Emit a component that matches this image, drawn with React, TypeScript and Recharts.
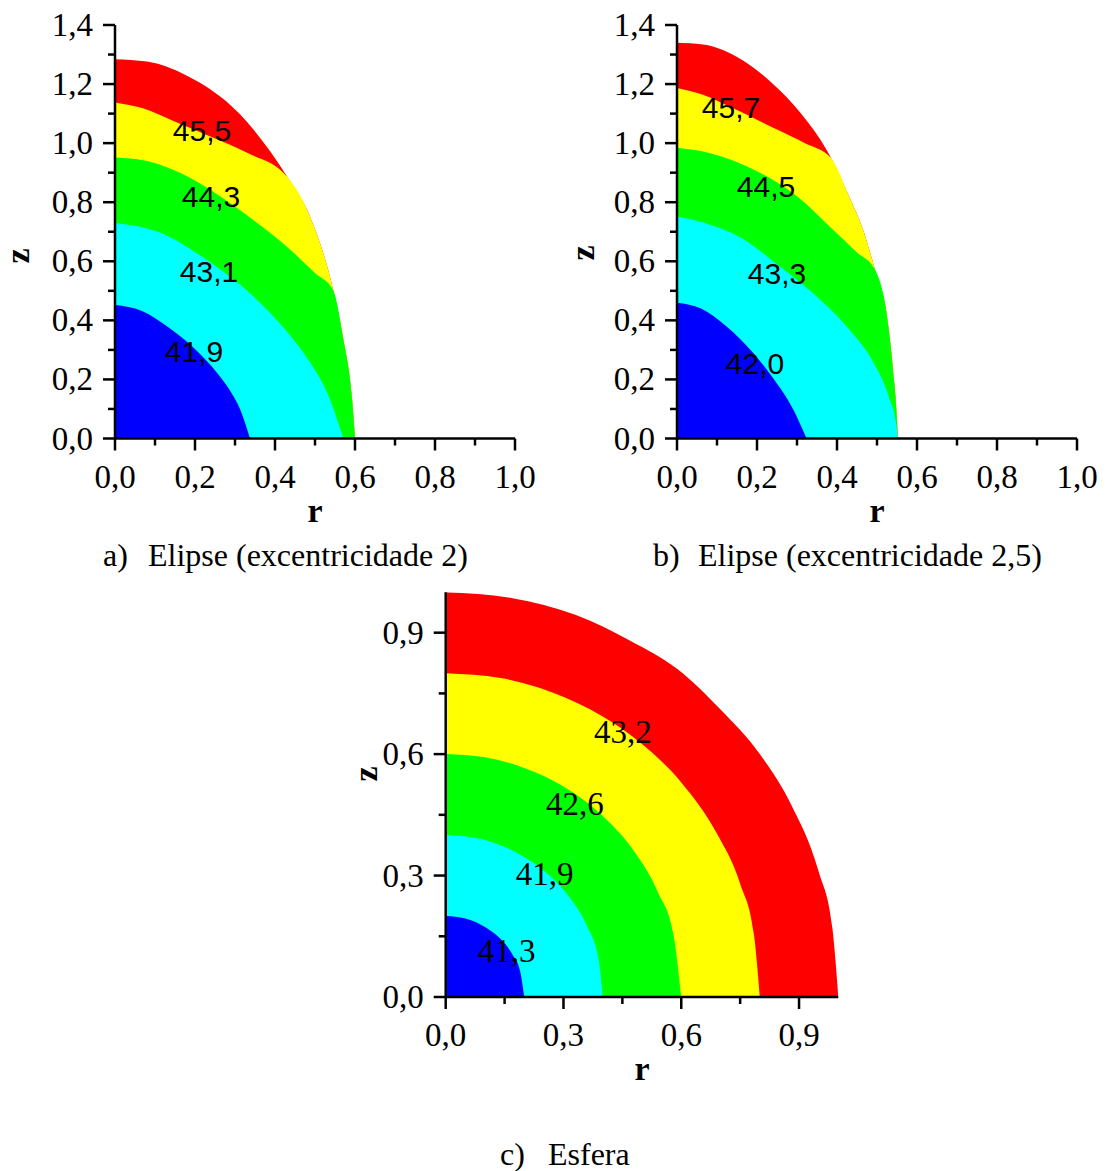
import { Area, ComposedChart, Scatter, XAxis, YAxis } from 'recharts'

const serif = '"Liberation Serif", "Times New Roman", serif'
const sans = '"Liberation Sans", Arial, sans-serif'

const fills: Record<string, string> = {
  red: '#ff0000',
  yellow: '#ffff00',
  green: '#00ff00',
  cyan: '#00ffff',
  blue: '#0000ff',
}

// a) ellipse, eccentricity 2 — upper edge of each colour band (r, z)
const aRedR = [0, 0.08, 0.18, 0.31, 0.43, 0.4875, 0.546, 0.571, 0.592, 0.598, 0.6]
const aRedZ = [1.284, 1.276, 1.228, 1.101, 0.887, 0.752, 0.5, 0.335, 0.143, 0.04, 0]
const aYellowR = [0, 0.07, 0.146, 0.24, 0.329, 0.43, 0.4875, 0.546, 0.571, 0.592, 0.598, 0.6]
const aYellowZ = [1.138, 1.118, 1.075, 1.022, 0.968, 0.887, 0.752, 0.5, 0.335, 0.143, 0.04, 0]
const aGreenR = [0, 0.074, 0.148, 0.222, 0.296, 0.37, 0.444, 0.5, 0.546, 0.571, 0.592, 0.598, 0.6]
const aGreenZ = [0.951, 0.941, 0.908, 0.856, 0.789, 0.715, 0.632, 0.56, 0.5, 0.335, 0.143, 0.04, 0]
const aCyanR = [0, 0.114, 0.228, 0.343, 0.428, 0.485, 0.531, 0.571]
const aCyanZ = [0.73, 0.697, 0.606, 0.485, 0.365, 0.263, 0.153, 0]
const aBlueR = [0, 0.0675, 0.135, 0.2025, 0.253, 0.287, 0.314, 0.3375]
const aBlueZ = [0.452, 0.432, 0.375, 0.3, 0.226, 0.163, 0.095, 0]
const aLevels = [45.5, 44.3, 43.1, 41.9]
const aLevelR = [0.2175, 0.24, 0.235, 0.1975]
const aLevelZ = [1.042, 0.819, 0.564, 0.293]

// b) ellipse, eccentricity 2.5
const bRedR = [0, 0.065, 0.165, 0.24, 0.31, 0.385, 0.43, 0.465, 0.495, 0.525, 0.54, 0.55, 0.552]
const bRedZ = [1.34, 1.334, 1.28, 1.2, 1.1, 0.95, 0.82, 0.707, 0.571, 0.413, 0.232, 0.063, 0]
const bYellowR = [0, 0.065, 0.13, 0.25, 0.32, 0.385, 0.43, 0.465, 0.495, 0.525, 0.54, 0.55, 0.552]
const bYellowZ = [1.187, 1.164, 1.125, 1.046, 1.0, 0.95, 0.82, 0.707, 0.571, 0.413, 0.232, 0.063, 0]
const bGreenR = [0, 0.08, 0.2, 0.3, 0.39, 0.45, 0.495, 0.525, 0.54, 0.55, 0.552]
const bGreenZ = [0.984, 0.967, 0.905, 0.82, 0.707, 0.63, 0.571, 0.413, 0.232, 0.063, 0]
const bCyanR = [0, 0.07, 0.16, 0.25, 0.35, 0.43, 0.49, 0.53, 0.548, 0.552]
const bCyanZ = [0.752, 0.73, 0.68, 0.59, 0.48, 0.37, 0.26, 0.14, 0.05, 0]
const bBlueR = [0, 0.06, 0.124, 0.19, 0.24, 0.29, 0.324]
const bBlueZ = [0.46, 0.44, 0.379, 0.29, 0.205, 0.1, 0]
const bLevels = [45.7, 44.5, 43.3, 42.0]
const bLevelR = [0.135, 0.2225, 0.25, 0.195]
const bLevelZ = [1.12, 0.852, 0.558, 0.253]

// c) sphere
const cRedR = [0, 0.17, 0.33, 0.47, 0.59, 0.7, 0.8, 0.88, 0.95, 0.985, 1.0]
const cRedZ = [1.0, 0.985, 0.944, 0.88, 0.81, 0.71, 0.6, 0.475, 0.31, 0.17, 0]
const cYellowR = [0, 0.14, 0.27, 0.4, 0.5, 0.6, 0.69, 0.75, 0.785, 0.8]
const cYellowZ = [0.8, 0.788, 0.753, 0.693, 0.625, 0.53, 0.405, 0.28, 0.155, 0]
const cGreenR = [0, 0.1, 0.2, 0.3, 0.4, 0.48, 0.54, 0.58, 0.6]
const cGreenZ = [0.6, 0.592, 0.566, 0.52, 0.447, 0.36, 0.26, 0.155, 0]
const cCyanR = [0, 0.07, 0.14, 0.2, 0.27, 0.32, 0.36, 0.39, 0.4]
const cCyanZ = [0.4, 0.394, 0.375, 0.346, 0.295, 0.24, 0.175, 0.09, 0]
const cBlueR = [0, 0.05, 0.1, 0.14, 0.17, 0.19, 0.2]
const cBlueZ = [0.2, 0.194, 0.173, 0.143, 0.105, 0.062, 0]
const cLevels = [43.2, 42.6, 41.9, 41.3]
const cLevelR = [0.451, 0.329, 0.252, 0.155]
const cLevelZ = [0.655, 0.476, 0.305, 0.114]

// axis ticks (majors get a label, the rest are minor marks)
const abRTicks = [0, 0.1, 0.2, 0.3, 0.4, 0.5, 0.6, 0.7, 0.8, 0.9, 1.0]
const abRMajor = [0, 0.2, 0.4, 0.6, 0.8, 1.0]
const abZTicks = [0, 0.1, 0.2, 0.3, 0.4, 0.5, 0.6, 0.7, 0.8, 0.9, 1.0, 1.1, 1.2, 1.3, 1.4]
const abZMajor = [0, 0.2, 0.4, 0.6, 0.8, 1.0, 1.2, 1.4]
const cTicks = [0, 0.15, 0.3, 0.45, 0.6, 0.75, 0.9]
const cMajor = [0, 0.3, 0.6, 0.9]

type Band = { key: string; r: number[]; z: number[] }

function buildRows(bands: Band[]) {
  const rows: Record<string, number>[] = []
  bands.forEach((b) => b.r.forEach((r, i) => rows.push({ r, [b.key]: b.z[i] })))
  return rows.sort((p, q) => p.r - q.r)
}

const fmt = (v: number) => v.toFixed(1).replace('.', ',')
const isMajor = (majors: number[], v: number) => majors.some((m) => Math.abs(m - v) < 1e-6)

function makeTick(side: 'x' | 'y', majors: number[]) {
  return (props: any) => {
    const { x, y, payload } = props
    const major = isMajor(majors, payload.value)
    const len = major ? 12 : 7
    if (side === 'y') {
      return (
        <g>
          <line x1={x - len} y1={y} x2={x} y2={y} stroke="#000" strokeWidth={2.5} />
          {major && (
            <text x={x - 22} y={y + 11} textAnchor="end" fontFamily={serif} fontSize={33} fill="#000">
              {fmt(payload.value)}
            </text>
          )}
        </g>
      )
    }
    return (
      <g>
        <line x1={x} y1={y} x2={x} y2={y + len} stroke="#000" strokeWidth={2.5} />
        {major && (
          <text x={x} y={y + 49} textAnchor="middle" fontFamily={serif} fontSize={33} fill="#000">
            {fmt(payload.value)}
          </text>
        )}
      </g>
    )
  }
}

interface PanelProps {
  left: number
  top: number
  width: number
  height: number
  margin: { top: number; right: number; bottom: number; left: number }
  yAxisWidth: number
  zMax: number
  rTicks: number[]
  rMajor: number[]
  zTicks: number[]
  zMajor: number[]
  bands: Band[]
  levels: number[]
  levelR: number[]
  levelZ: number[]
  levelFont: string
  levelSize: number
  zTitle: { x: number; y: number }
}

function Panel(p: PanelProps) {
  const rows = buildRows(p.bands)
  const labelRows = p.levels.map((v, i) => ({ r: p.levelR[i], z: p.levelZ[i], text: fmt(v) }))
  return (
    <div style={{ position: 'absolute', left: p.left, top: p.top }}>
      <ComposedChart width={p.width} height={p.height} data={rows} margin={p.margin}>
        <XAxis
          dataKey="r"
          type="number"
          domain={[0, 1]}
          allowDataOverflow
          ticks={p.rTicks}
          interval={0}
          tickSize={0}
          tickMargin={0}
          tickLine={false}
          tick={makeTick('x', p.rMajor)}
          axisLine={{ stroke: '#000', strokeWidth: 2.5 }}
          height={90}
          label={{
            content: (lp: any) => (
              <text
                x={lp.viewBox.x + lp.viewBox.width / 2}
                y={lp.viewBox.y + 83}
                textAnchor="middle"
                fontFamily={serif}
                fontWeight="bold"
                fontSize={34}
                fill="#000"
              >
                r
              </text>
            ),
          }}
        />
        <YAxis
          type="number"
          domain={[0, p.zMax]}
          allowDataOverflow
          ticks={p.zTicks}
          interval={0}
          tickSize={0}
          tickMargin={0}
          tickLine={false}
          tick={makeTick('y', p.zMajor)}
          axisLine={{ stroke: '#000', strokeWidth: 2.5 }}
          width={p.yAxisWidth}
          label={{
            content: () => (
              <text
                x={p.zTitle.x}
                y={p.zTitle.y}
                transform={`rotate(-90 ${p.zTitle.x} ${p.zTitle.y})`}
                textAnchor="middle"
                dominantBaseline="central"
                fontFamily={serif}
                fontWeight="bold"
                fontSize={34}
                fill="#000"
              >
                z
              </text>
            ),
          }}
        />
        {p.bands.map((b) => (
          <Area
            key={b.key}
            dataKey={b.key}
            type="monotone"
            connectNulls
            stroke="none"
            fill={fills[b.key]}
            fillOpacity={1}
            dot={false}
            activeDot={false}
            isAnimationActive={false}
          />
        ))}
        <Scatter
          data={labelRows}
          dataKey="z"
          isAnimationActive={false}
          shape={(sp: any) => (
            <text
              x={sp.cx}
              y={sp.cy}
              textAnchor="middle"
              dominantBaseline="central"
              fontFamily={p.levelFont}
              fontSize={p.levelSize}
              fill="#000"
            >
              {sp.payload.text}
            </text>
          )}
        />
      </ComposedChart>
    </div>
  )
}

export default function App() {
  const aBands: Band[] = [
    { key: 'red', r: aRedR, z: aRedZ },
    { key: 'yellow', r: aYellowR, z: aYellowZ },
    { key: 'green', r: aGreenR, z: aGreenZ },
    { key: 'cyan', r: aCyanR, z: aCyanZ },
    { key: 'blue', r: aBlueR, z: aBlueZ },
  ]
  const bBands: Band[] = [
    { key: 'red', r: bRedR, z: bRedZ },
    { key: 'yellow', r: bYellowR, z: bYellowZ },
    { key: 'green', r: bGreenR, z: bGreenZ },
    { key: 'cyan', r: bCyanR, z: bCyanZ },
    { key: 'blue', r: bBlueR, z: bBlueZ },
  ]
  const cBands: Band[] = [
    { key: 'red', r: cRedR, z: cRedZ },
    { key: 'yellow', r: cYellowR, z: cYellowZ },
    { key: 'green', r: cGreenR, z: cGreenZ },
    { key: 'cyan', r: cCyanR, z: cCyanZ },
    { key: 'blue', r: cBlueR, z: cBlueZ },
  ]

  return (
    <div style={{ position: 'absolute', left: 0, top: 0, width: 1109, height: 1171, background: '#fff' }}>
      <Panel
        left={0}
        top={0}
        width={560}
        height={530}
        margin={{ top: 25, right: 45, bottom: 1.5, left: 0 }}
        yAxisWidth={115}
        zMax={1.4}
        rTicks={abRTicks}
        rMajor={abRMajor}
        zTicks={abZTicks}
        zMajor={abZMajor}
        bands={aBands}
        levels={aLevels}
        levelR={aLevelR}
        levelZ={aLevelZ}
        levelFont={sans}
        levelSize={30}
        zTitle={{ x: 17, y: 256 }}
      />
      <Panel
        left={560}
        top={0}
        width={549}
        height={530}
        margin={{ top: 25, right: 32, bottom: 1.5, left: 0 }}
        yAxisWidth={117}
        zMax={1.4}
        rTicks={abRTicks}
        rMajor={abRMajor}
        zTicks={abZTicks}
        zMajor={abZMajor}
        bands={bBands}
        levels={bLevels}
        levelR={bLevelR}
        levelZ={bLevelZ}
        levelFont={sans}
        levelSize={30}
        zTitle={{ x: 22, y: 253 }}
      />
      <Panel
        left={330}
        top={560}
        width={560}
        height={540}
        margin={{ top: 32.2, right: 51.7, bottom: 13, left: 0 }}
        yAxisWidth={115.7}
        zMax={1.0}
        rTicks={cTicks}
        rMajor={cMajor}
        zTicks={cTicks}
        zMajor={cMajor}
        bands={cBands}
        levels={cLevels}
        levelR={cLevelR}
        levelZ={cLevelZ}
        levelFont={serif}
        levelSize={33}
        zTitle={{ x: 35, y: 214 }}
      />
      <svg width={1109} height={1171} style={{ position: 'absolute', left: 0, top: 0, pointerEvents: 'none' }}>
        <g fontFamily={serif} fontSize={32} fill="#000">
          <text x={103} y={566}>a)</text>
          <text x={148} y={566}>Elipse (excentricidade 2)</text>
          <text x={653} y={566}>b)</text>
          <text x={698} y={566}>Elipse (excentricidade 2,5)</text>
          <text x={500} y={1165}>c)</text>
          <text x={548} y={1165}>Esfera</text>
        </g>
      </svg>
    </div>
  )
}
